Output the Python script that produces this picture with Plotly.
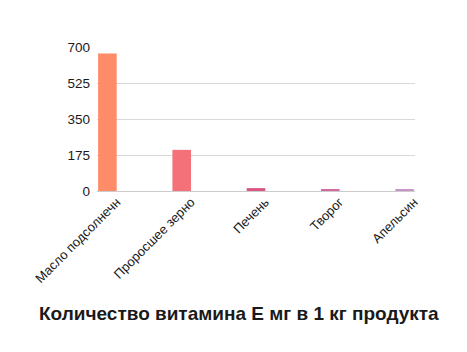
import plotly.graph_objects as go

categories = ["Масло подсолнечн", "Проросшее зерно", "Печень", "Творог", "Апельсин"]
values = [668, 200, 14, 5, 5]
colors = ["#FF8C69", "#F4717A", "#D9567F", "#D46A9F", "#C993C8"]
y_ticks = [0, 175, 350, 525, 700]
title = "Количество витамина Е мг в 1 кг продукта"

fig = go.Figure(go.Bar(
    x=categories, y=values, marker=dict(color=colors, line=dict(width=0)),
    width=0.25, offset=-0.25,
))

fig.update_layout(
    width=467, height=352,
    margin=dict(l=97, r=52, t=47, b=161),
    paper_bgcolor="white", plot_bgcolor="white",
    font=dict(family="Liberation Sans, Arial, sans-serif", size=13, color="#1a1a1a"),
    showlegend=False,
    xaxis=dict(type="category", range=[-0.265, 4.015], tickangle=-45,
               showgrid=False, showline=False, zeroline=False, ticks="",
               tickfont=dict(size=13, color="#1a1a1a")),
    yaxis=dict(range=[0, 700], tickvals=y_ticks, showgrid=True, gridcolor="#d9d9d9",
               gridwidth=1, zeroline=True, zerolinecolor="#cccccc", zerolinewidth=1,
               showline=False, ticks="", ticklabelstandoff=6,
               tickfont=dict(size=13.5, color="#1a1a1a")),
    annotations=[dict(text="<b>" + title + "</b>", xref="paper", yref="paper",
                      x=(238.5 - 97) / 318, y=-(313 - 191) / 144, xanchor="center", yanchor="middle",
                      showarrow=False, font=dict(size=19, color="#1a1a1a",
                                                 family="Liberation Sans, Arial, sans-serif"))],
)

fig.write_html("out.html")
